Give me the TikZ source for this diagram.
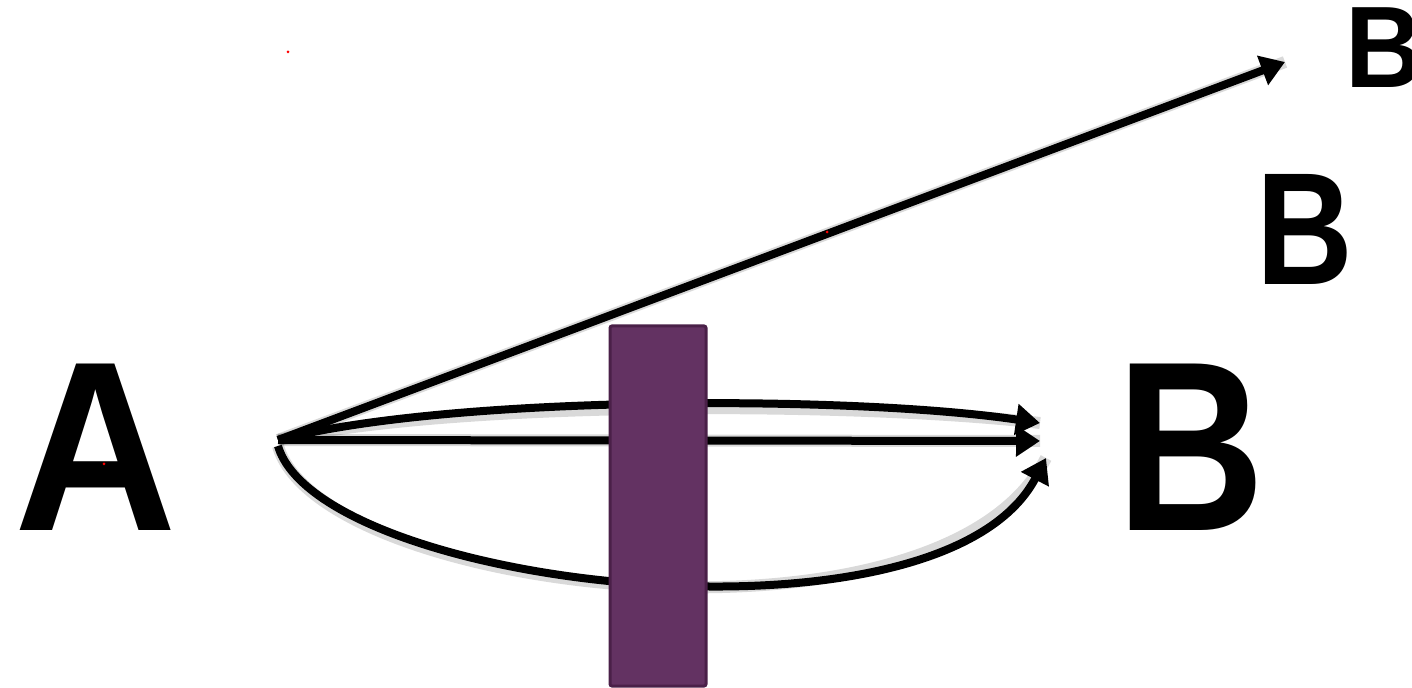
\documentclass[tikz,border=0pt]{standalone}
\usepackage{fontspec}
\setmainfont{Liberation Sans}
\usetikzlibrary{arrows.meta}

\definecolor{barfill}{HTML}{633262}
\definecolor{barline}{HTML}{4A2048}

\begin{document}
\begin{tikzpicture}[
  x=0.5pt, y=-0.5pt,
  letter/.style={anchor=base west, inner sep=0pt, xscale=0.93, font=\bfseries},
  arr/.style={-{Triangle[length=12pt, width=15pt]}, line width=4pt, black},
  shade/.style={line width=6pt, black, opacity=0.15, yshift=-3pt},
  barbox/.style={fill=barfill, draw=barline, line width=1.5pt, rounded corners=1pt},
  speck/.style={fill=red, inner sep=0pt, minimum size=1.5pt, circle},
]
\useasboundingbox (0,0) rectangle (1412,688);
\clip (0,0) rectangle (1412,688);

% Letters
\node[letter, font=\fontsize{121}{121}\selectfont\bfseries] (a) at (14,531) {A};
\node[letter, xscale=0.915, font=\fontsize{121}{121}\selectfont\bfseries] (bnear) at (1116,531) {B};
\node[letter, xscale=0.9, font=\fontsize{80}{80}\selectfont\bfseries] (bmid) at (1256,285) {B};
\node[letter, font=\fontsize{58}{58}\selectfont\bfseries] (bfar) at (1345,88) {B};

% End points
\coordinate (src) at (278,440);
\coordinate (srclow) at (278,446);
\coordinate (tipfar) at (1285,62);
\coordinate (tipup) at (1040,423);
\coordinate (tipmid) at (1040,441);
\coordinate (tiplow) at (1046,458);

% Shadows
\draw[shade] (src) -- (tipfar);
\draw[shade] (src) .. controls (450,395) and (850,395) .. (tipup);
\draw[shade] (src) -- (tipmid);
\draw[shade] (srclow) .. controls (320,588) and (940,660) .. (tiplow);

% Paths
\draw[arr] (src) -- (tipfar);
\draw[arr] (src) .. controls (450,395) and (850,395) .. (tipup);
\draw[arr] (src) -- (tipmid);
\draw[arr] (srclow) .. controls (320,588) and (940,660) .. (tiplow);

% Barrier
\draw[barbox] (610,326) rectangle (706,686);

% Specks
\node[speck] (s1) at (288,52) {};
\node[speck] (s2) at (104,464) {};
\node[speck] (s3) at (827,232) {};
\end{tikzpicture}
\end{document}
